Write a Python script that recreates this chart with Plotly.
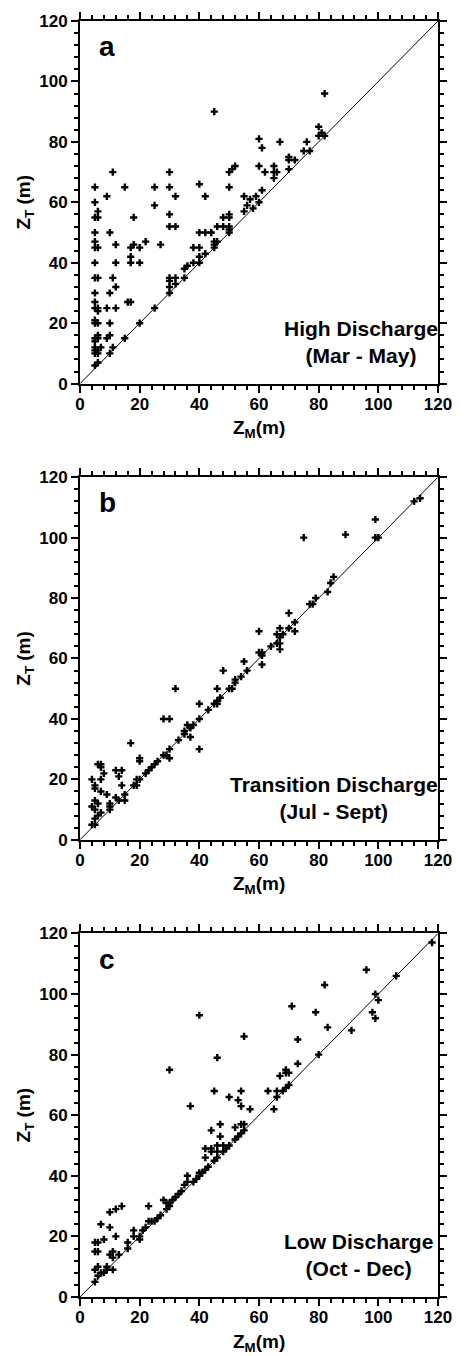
import plotly.graph_objects as go

# panel a: high discharge (Mar - May)
a_zm = [5, 5, 5, 6, 6, 5, 5, 5, 6, 5, 5, 6, 5, 5, 5, 6, 6, 5, 5, 6, 6, 5, 6, 5, 7, 5, 5, 6, 5, 6, 6, 5,
        9, 11, 15, 10, 12, 12, 11, 12, 10, 9, 12, 10, 10, 9, 11, 10, 15, 20, 25,
        18, 17, 18, 17, 17, 20, 20, 22, 16, 17,
        25, 25, 27, 30, 30, 30, 30, 32, 32, 30, 30, 32, 30, 32, 30, 35, 35, 36, 38, 38, 40, 40, 40, 40, 40,
        42, 42, 42, 44, 45, 45, 45, 46, 45, 46, 48, 48, 50, 50, 50, 50, 50, 50, 50, 51, 52, 55, 55, 56,
        57, 58, 59, 60, 60, 60, 61, 61, 62, 65, 65, 65, 66, 67, 70, 70, 70, 72, 75, 76, 77, 80, 80, 81,
        82, 82]
a_zt = [65, 60, 55, 55, 57, 50, 47, 45, 45, 40, 35, 35, 30, 27, 25, 25, 24, 21, 20, 20, 16, 15, 15, 14, 12, 12, 11, 11, 10, 10, 7, 6,
        62, 70, 65, 50, 46, 40, 35, 32, 30, 25, 25, 20, 16, 15, 12, 10, 15, 20, 25,
        55, 45, 46, 42, 40, 45, 40, 47, 27, 27,
        65, 59, 46, 70, 65, 56, 52, 52, 62, 35, 34, 35, 32, 33, 30, 35, 38, 39, 40, 45, 45, 42, 40, 50, 66,
        62, 50, 43, 50, 90, 45, 46, 47, 47, 52, 55, 52, 65, 56, 55, 52, 51, 50, 70, 71, 72, 62, 57, 59,
        61, 58, 62, 60, 72, 81, 78, 64, 70, 72, 68, 70, 70, 80, 75, 74, 71, 74, 77, 80, 77, 85, 82, 83,
        82, 96]

# panel b: transition discharge (Jul - Sept)
b_zm = [112, 114, 99, 99, 100, 75, 89, 85, 84, 83, 79, 77, 78, 70, 72, 70, 72, 67, 66, 68, 67, 66, 67, 67,
        64, 60, 60, 61, 61, 61, 55, 56, 54, 52, 52, 50, 51, 48, 46, 47, 46, 45, 46, 43, 40, 40, 40, 32,
        28, 30, 35, 36, 37, 38, 35, 37, 33, 30, 30, 28, 29, 22, 23, 24, 25, 26, 19, 20, 20, 20, 17, 18,
        19, 15, 15, 12, 14, 13, 14, 12, 13, 10, 10, 10, 9, 8, 7, 6, 7, 7, 7, 4, 5, 5, 5, 6, 4, 5, 7, 6,
        5, 4, 5]
b_zt = [112, 113, 106, 100, 100, 100, 101, 87, 85, 82, 80, 78, 78, 75, 72, 70, 69, 70, 68, 68, 67, 65, 65, 63,
        64, 69, 62, 62, 61, 58, 59, 56, 54, 53, 52, 50, 50, 56, 50, 47, 46, 45, 45, 43, 45, 40, 30, 50,
        40, 40, 36, 38, 37, 38, 35, 34, 33, 30, 27, 28, 28, 22, 23, 24, 25, 26, 20, 20, 27, 26, 32, 18,
        18, 15, 13, 23, 23, 21, 18, 14, 13, 12, 10, 11, 15, 22, 25, 25, 24, 20, 16, 20, 18, 17, 13, 12,
        11, 10, 9, 8, 7, 5, 5]

# panel c: low discharge (Oct - Dec)
c_zm = [118, 96, 82, 106, 99, 100, 98, 99, 79, 71, 83, 91, 73, 80, 73, 69, 70, 69, 67, 63, 66, 66, 65, 70,
        69, 68, 40, 30, 55, 46, 45, 54, 50, 53, 54, 57, 37, 47, 54, 55, 44, 52, 47, 42, 44, 44, 46, 46,
        48, 42, 38, 39, 40, 40, 41, 42, 43, 45, 46, 48, 49, 50, 52, 53, 54, 55, 36, 35, 36, 34, 33, 32,
        31, 30, 28, 29, 23, 23, 22, 24, 25, 26, 27, 29, 30, 21, 14, 12, 10, 7, 10, 12, 8, 5, 6, 5, 6,
        18, 18, 16, 16, 20, 20, 11, 10, 11, 13, 11, 5, 6, 9, 9, 7, 8, 6, 5]
c_zt = [117, 108, 103, 106, 100, 98, 94, 92, 94, 96, 89, 88, 85, 80, 77, 75, 74, 74, 73, 68, 68, 66, 62, 70,
        69, 68, 93, 75, 86, 79, 68, 68, 66, 65, 63, 62, 63, 57, 57, 57, 55, 56, 53, 49, 49, 48, 50, 48,
        50, 46, 38, 39, 40, 41, 41, 42, 43, 45, 46, 48, 49, 50, 52, 53, 54, 55, 40, 37, 38, 35, 34, 33,
        32, 31, 32, 31, 30, 25, 23, 25, 25, 26, 27, 29, 30, 22, 30, 29, 28, 24, 23, 20, 19, 18, 18, 15, 15,
        22, 20, 18, 16, 20, 19, 15, 14, 13, 14, 9, 9, 10, 10, 9, 8, 8, 7, 5]

panels = [
    (a_zm, a_zt, "a", "High Discharge<br>(Mar - May)", 94.3, 13.7),
    (b_zm, b_zt, "b", "Transition Discharge<br>(Jul - Sept)", 85.3, 13.9),
    (c_zm, c_zt, "c", "Low Discharge<br>(Oct - Dec)", 93.3, 13.9),
]

# vertical domains of the three stacked panels
domains = [[0.7158, 1.0], [0.3583, 0.6425], [0.0, 0.2849]]

font_main = "Liberation Sans, Arial, sans-serif"

fig = go.Figure()

for i, (zm, zt, letter, label, lx, ly) in enumerate(panels):
    n = "" if i == 0 else str(i + 1)
    xa = "x" + n
    ya = "y" + n

    # 1:1 line
    fig.add_trace(go.Scatter(
        x=[0, 120], y=[0, 120], mode="lines",
        line=dict(color="black", width=1),
        xaxis=xa, yaxis=ya, showlegend=False, hoverinfo="skip"
    ))

    fig.add_trace(go.Scatter(
        x=zm, y=zt, mode="markers",
        marker=dict(symbol="cross", size=6, color="black", line=dict(width=0)),
        xaxis=xa, yaxis=ya, showlegend=False
    ))

    axis_style = dict(
        range=[0, 120], dtick=20, showgrid=False, zeroline=False,
        showline=True, linewidth=2, linecolor="black", mirror="ticks",
        ticks="outside", ticklen=7, tickwidth=2, tickcolor="black",
        minor=dict(dtick=4, ticks="outside", ticklen=4, tickwidth=1.5, tickcolor="black"),
        tickfont=dict(family=font_main, size=17, color="black", weight="bold"),
    )

    fig.update_layout({
        "xaxis" + n: dict(axis_style, domain=[0, 1], anchor=ya, ticklabelstandoff=-3),
        "yaxis" + n: dict(axis_style, domain=domains[i], anchor=xa, ticklabelstandoff=0),
    })

    # panel letter
    fig.add_annotation(
        x=9.2, y=111.5, xref=xa, yref=ya, text=letter, showarrow=False,
        font=dict(family=font_main, size=28, color="black", weight="bold"),
        xanchor="center", yanchor="middle"
    )

    # season label
    fig.add_annotation(
        x=lx, y=ly, xref=xa, yref=ya, text=label, showarrow=False, align="center",
        font=dict(family=font_main, size=21, color="black", weight="bold"),
        xanchor="center", yanchor="middle"
    )

    # axis titles
    fig.add_annotation(
        x=0.5, y=-0.09, xref=xa + " domain", yref=ya + " domain",
        text="Z<sub>M</sub>(m)", showarrow=False, borderpad=0,
        font=dict(family=font_main, size=19, color="black", weight="bold"),
        xanchor="center", yanchor="top"
    )
    fig.add_annotation(
        x=-0.153, y=0.5, xref=xa + " domain", yref=ya + " domain",
        text="Z<sub>T</sub> (m)", showarrow=False, textangle=-90, borderpad=0,
        font=dict(family=font_main, size=19, color="black", weight="bold"),
        xanchor="center", yanchor="middle"
    )

fig.update_layout(
    width=464, height=1356,
    margin=dict(l=80, r=16, t=16, b=59),
    plot_bgcolor="white", paper_bgcolor="white",
    showlegend=False,
)

# drop the default page margin so the figure sits at the window's corner
fig.write_html("out.html", config={"displayModeBar": False},
               post_script="document.body.style.margin='0';")
